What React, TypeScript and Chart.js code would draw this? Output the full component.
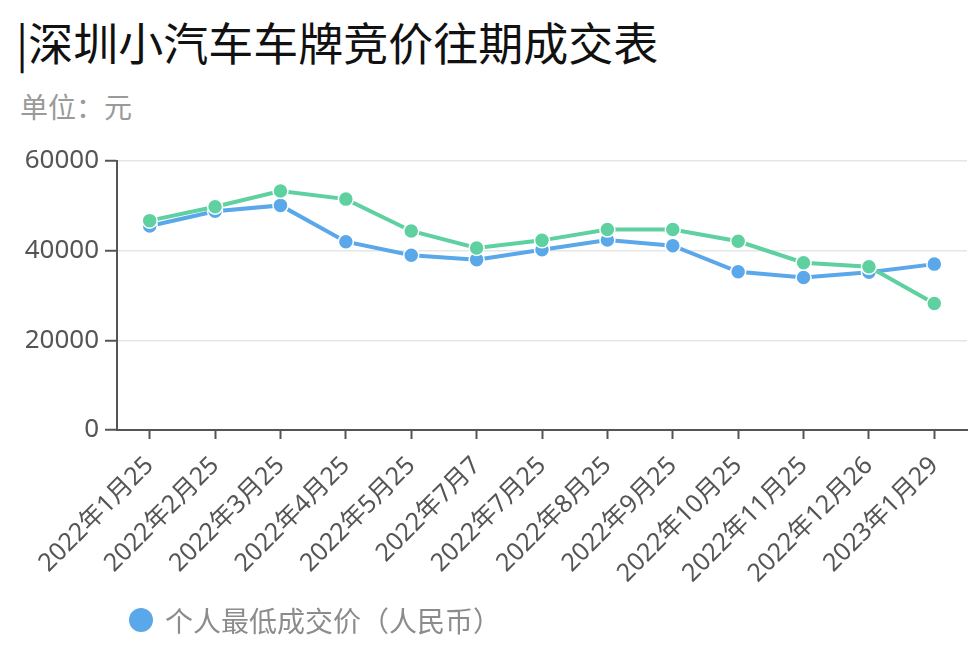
import React, { useEffect, useRef } from "react";
import { Chart, registerables } from "chart.js";

Chart.register(...registerables);

const categories = [
  "2022年1月25",
  "2022年2月25",
  "2022年3月25",
  "2022年4月25",
  "2022年5月25",
  "2022年7月7",
  "2022年7月25",
  "2022年8月25",
  "2022年9月25",
  "2022年10月25",
  "2022年11月25",
  "2022年12月26",
  "2023年1月29",
];

const lowestPrice = [45500, 48800, 50100, 42000, 39000, 38000, 40200, 42400, 41100, 35300, 34000, 35200, 37000];
const secondSeries = [46700, 49800, 53300, 51500, 44400, 40600, 42300, 44700, 44700, 42100, 37300, 36400, 28200];

const yTicks = [0, 20000, 40000, 60000];

const seriesNames = ["个人最低成交价（人民币）", "个人平均成交价（人民币）"];

const BLUE = "#5aa8ea";
const GREEN = "#5fd0a0";
const AXIS = "#555555";
const FONT = "'Noto Sans', 'Noto Sans CJK SC', sans-serif";

export default function App() {
  const ref = useRef<HTMLCanvasElement | null>(null);

  useEffect(() => {
    document.body.style.margin = "0";
    const canvas = ref.current;
    if (!canvas) return;
    const chart = new Chart(canvas, {
      type: "line",
      data: {
        labels: categories,
        datasets: [
          {
            label: seriesNames[0],
            data: lowestPrice,
            borderColor: BLUE,
            backgroundColor: BLUE,
            pointBackgroundColor: BLUE,
            pointBorderColor: "#ffffff",
            pointBorderWidth: 1.5,
            pointRadius: 7.5,
            borderWidth: 4,
            tension: 0,
            order: 1,
          },
          {
            label: seriesNames[1],
            data: secondSeries,
            borderColor: GREEN,
            backgroundColor: GREEN,
            pointBackgroundColor: GREEN,
            pointBorderColor: "#ffffff",
            pointBorderWidth: 1.5,
            pointRadius: 7.5,
            borderWidth: 4,
            tension: 0,
            order: 0,
          },
        ],
      },
      options: {
        responsive: false,
        animation: false,
        layout: { padding: { top: 161, right: 9, left: 0, bottom: 0 } },
        plugins: {
          legend: { display: false },
          title: { display: false },
          tooltip: { enabled: false },
        },
        scales: {
          x: {
            type: "category",
            offset: true,
            afterFit: (axis: any) => {
              axis.height = 229;
            },
            grid: {
              drawOnChartArea: false,
              drawTicks: true,
              tickLength: 9,
              tickColor: AXIS,
              tickWidth: 2,
            },
            border: { display: true, color: AXIS, width: 2 },
            ticks: {
              autoSkip: false,
              minRotation: 45,
              maxRotation: 45,
              padding: 12,
              color: AXIS,
              font: { family: FONT, size: 25 },
            },
          },
          y: {
            min: 0,
            max: 60000,
            afterFit: (axis: any) => {
              axis.width = 117;
            },
            afterBuildTicks: (axis: any) => {
              axis.ticks = yTicks.map((v) => ({ value: v }));
            },
            grid: {
              color: (ctx: any) => (ctx.tick && ctx.tick.value === 0 ? "rgba(0,0,0,0)" : "#e6e6e6"),
              lineWidth: 1.5,
              drawTicks: true,
              tickLength: 12,
              tickColor: AXIS,
              tickWidth: 2,
            },
            border: { display: true, color: AXIS, width: 2 },
            ticks: {
              padding: 6,
              color: AXIS,
              font: { family: FONT, size: 26 },
              callback: (v: any) => String(v),
            },
          },
        },
      },
    });
    return () => chart.destroy();
  }, []);

  return (
    <div style={{ position: "absolute", left: 0, top: 0, width: 976, height: 659, overflow: "hidden", background: "#fff" }}>
      <div
        style={{
          position: "absolute",
          left: 16,
          top: 16,
          fontFamily: "'Noto Sans CJK SC', sans-serif",
          fontSize: 45,
          lineHeight: "52px",
          color: "#111",
          whiteSpace: "nowrap",
        }}
      >
        |深圳小汽车车牌竞价往期成交表
      </div>
      <div
        style={{
          position: "absolute",
          left: 20,
          top: 88,
          fontFamily: "'Noto Sans CJK SC', sans-serif",
          fontSize: 28,
          lineHeight: "36px",
          color: "#9a9a9a",
          whiteSpace: "nowrap",
        }}
      >
        单位：元
      </div>
      <canvas ref={ref} width={976} height={659} style={{ position: "absolute", left: 0, top: 0 }} />
      <div
        style={{
          position: "absolute",
          left: 129,
          top: 602,
          display: "flex",
          alignItems: "center",
          fontFamily: "'Noto Sans CJK SC', sans-serif",
          fontSize: 28,
          lineHeight: "36px",
          color: "#8c8c8c",
          whiteSpace: "nowrap",
        }}
      >
        <span style={{ display: "inline-block", width: 24, height: 24, borderRadius: 12, background: BLUE, marginRight: 12 }} />
        {seriesNames[0]}
      </div>
    </div>
  );
}
